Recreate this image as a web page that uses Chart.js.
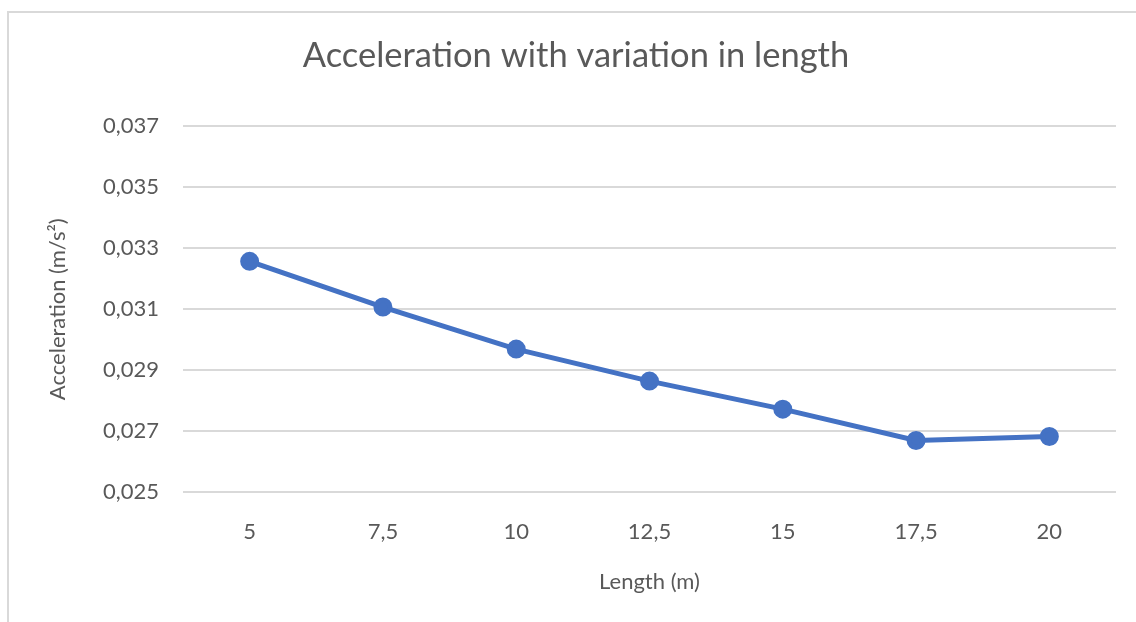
<!DOCTYPE html>
<html>
<head>
<meta charset="utf-8">
<script src="https://cdn.jsdelivr.net/npm/chart.js@4"></script>
<style>
  body { margin: 0; background: #fff; overflow: hidden; }
  #frame { position: absolute; left: 7px; top: 11px; width: 1200px; height: 700px; border: 2px solid #d9d9d9; }
  #wrap { position: absolute; left: 0; top: 0; width: 1136px; height: 622px; }
</style>
</head>
<body>
<div id="frame"></div>
<div id="wrap"><canvas id="chart"></canvas></div>
<script>
// data
const lengths = ["5", "7,5", "10", "12,5", "15", "17,5", "20"];
const acceleration = [0.03257, 0.03107, 0.02969, 0.02864, 0.02772, 0.02669, 0.02682];

const TEXT = '#595959';
const FONT = 'Lato';

new Chart(document.getElementById('chart'), {
    type: 'line',
    data: {
        labels: lengths,
        datasets: [{
            data: acceleration,
            borderColor: '#4472c4',
            backgroundColor: '#4472c4',
            borderWidth: 5,
            pointRadius: 7,
            pointHoverRadius: 7,
            tension: 0
        }]
    },
    options: {
        responsive: true,
        maintainAspectRatio: false,
        animation: false,
        layout: { padding: { left: 18, right: 2, top: 0, bottom: 0 } },
        plugins: {
            legend: { display: false },
            tooltip: { enabled: false },
            title: {
                display: true,
                text: 'Acceleration with variation in length',
                color: TEXT,
                font: { family: FONT, size: 34.5, weight: 'normal' },
                padding: { top: 35, bottom: 50 }
            }
        },
        scales: {
            x: {
                offset: true,
                grid: { display: false },
                border: { display: false },
                ticks: { color: TEXT, font: { family: FONT, size: 22 }, padding: 19, maxRotation: 0 },
                title: {
                    display: true, text: 'Length (m)', color: TEXT,
                    font: { family: FONT, size: 22 }, padding: { top: 0, bottom: 27 }
                },
                afterFit: (s) => { s.height = 130; }
            },
            y: {
                min: 0.025,
                max: 0.037,
                grid: { color: '#d9d9d9', lineWidth: 2, drawTicks: false },
                border: { display: false },
                ticks: {
                    stepSize: 0.002,
                    color: TEXT,
                    font: { family: FONT, size: 22 },
                    padding: 24,
                    callback: (v) => v.toFixed(3).replace('.', ',')
                },
                title: {
                    display: true, text: 'Acceleration (m/s²)', color: TEXT,
                    font: { family: FONT, size: 22 }, padding: { top: 27, bottom: 0 }
                },
                afterFit: (s) => { s.width = 165; }
            },
            // empty spacer on the right so the plot ends where the reference does
            spacer: {
                type: 'linear',
                position: 'right',
                grid: { display: false },
                border: { display: false },
                ticks: { display: false },
                afterFit: (s) => { s.width = 18; }
            }
        }
    }
});
</script>
</body>
</html>
